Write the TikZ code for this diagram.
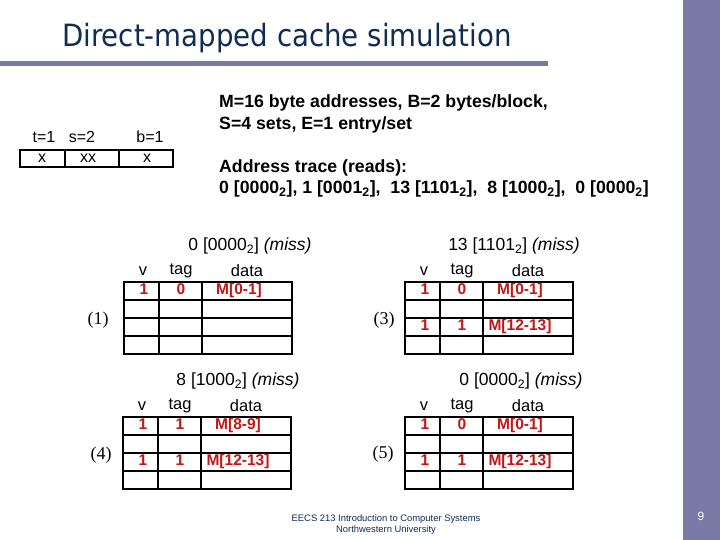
\documentclass[tikz,border=0pt]{standalone}
\usepackage{fontspec}
\setmainfont{Liberation Sans}
\newfontfamily\titlefont{DejaVu Sans Condensed}
\newfontfamily\stepfont{Liberation Serif}
\usetikzlibrary{positioning}

\definecolor{slidebar}{RGB}{122,122,166}
\definecolor{titleblue}{RGB}{16,44,84}
\definecolor{entryred}{RGB}{196,20,20}

% grid of one cache: #1 = left x, #2 = top y
\newcommand{\cachegrid}[2]{%
    \draw[gridline] (#1,#2) rectangle ++(168,72);
    \foreach \r in {18,36,54} \draw[gridline] (#1,#2+\r) -- ++(168,0);
    \foreach \c in {35,78} \draw[gridline] (#1+\c,#2) -- ++(0,72);
}
% column heads: #1 = left x, #2 = top y, #3 = name
\newcommand{\cachehead}[3]{%
    \node[hdr] (#3v) at (#1+19,#2-11) {v};
    \node[hdr] (#3t) at (#1+57,#2-11) {tag};
    \node[hdr] (#3d) at (#1+123,#2-11) {data};
}
% one filled line: #1 = left x, #2 = row centre y, #3 v, #4 tag, #5 data, #6 name
\newcommand{\cacherow}[6]{%
    \node[entry] (#6v) at (#1+20,#2) {#3};
    \node[entry] (#6t) at (#1+57,#2) {#4};
    \node[entry] (#6d) at (#1+115,#2) {#5};
}

\begin{document}
\begin{tikzpicture}[x=1pt, y=-1pt,
        gridline/.style={line width=2.7pt, black},
        hdr/.style={font=\fontsize{16.5}{16}\selectfont, inner sep=0pt},
        entry/.style={font=\fontsize{15.5}{14}\selectfont\bfseries, text=entryred,
            inner sep=0pt, text height=1.45ex, text depth=0.2ex},
        info/.style={font=\fontsize{17.7}{18}\selectfont\bfseries, inner sep=0pt, anchor=west},
        access/.style={font=\fontsize{17.5}{17}\selectfont, inner sep=0pt},
        steplabel/.style={font=\stepfont\fontsize{18}{18}\selectfont, inner sep=0pt},
        field/.style={font=\fontsize{16}{16}\selectfont, inner sep=0pt}
    ]
    \useasboundingbox (0,0) rectangle (720,540);

    % slide frame
    \fill[slidebar] (0,61) rectangle (548,66);
    \fill[slidebar] (683,0) rectangle (720,540);
    \node[font=\titlefont\fontsize{30.7}{30}\selectfont, text=titleblue, inner sep=0pt,
        anchor=base west] (title) at (62,47) {Direct-mapped cache simulation};
    \node[font=\fontsize{12}{12}\selectfont, text=white, inner sep=0pt] (pagenum) at (701,516) {9};
    \node[font=\fontsize{9.4}{11}\selectfont, text=titleblue, align=center, inner sep=0pt]
        (footer) at (386,525) {EECS 213 Introduction to Computer Systems\\Northwestern University};

    % address fields
    \draw[line width=1.8pt] (20,150) rectangle (173,167);
    \draw[line width=1.8pt] (65,150) -- (65,167);
    \draw[line width=1.8pt] (119,150) -- (119,167);
    \node[field] (tlab) at (44,137) {t=1};
    \node[field] (slab) at (82,137) {s=2};
    \node[field] (blab) at (150,137) {b=1};
    \node[field] (tbits) at (42,158) {x};
    \node[field] (sbits) at (88,158) {xx};
    \node[field] (bbits) at (147,158) {x};

    % parameters and trace
    \node[info] (params1) at (219,103) {M=16 byte addresses, B=2 bytes/block,};
    \node[info] (params2) at (219,125) {S=4 sets, E=1 entry/set};
    \node[info] (trace1) at (219,168) {Address trace (reads):};
    \node[info] (trace2) at (219,189) {0 [0000\textsubscript{2}], 1 [0001\textsubscript{2}],~ 13 [1101\textsubscript{2}],~ 8 [1000\textsubscript{2}],~ 0 [0000\textsubscript{2}]};

    % (1)
    \node[access] (acc1) at (250,246) {0 [0000\textsubscript{2}] \textit{(miss)}};
    \cachehead{124}{282}{h1}
    \cachegrid{124}{282}
    \cacherow{124}{291}{1}{0}{M[0-1]}{a1}
    \node[steplabel] (step1) at (98,320) {(1)};

    % (3)
    \node[access] (acc3) at (514,246) {13 [1101\textsubscript{2}] \textit{(miss)}};
    \cachehead{405}{282}{h3}
    \cachegrid{405}{282}
    \cacherow{405}{291}{1}{0}{M[0-1]}{c1}
    \cacherow{405}{327}{1}{1}{M[12-13]}{c3}
    \node[steplabel] (step3) at (384,320) {(3)};

    % (4)
    \node[access] (acc4) at (238,381) {8 [1000\textsubscript{2}] \textit{(miss)}};
    \cachehead{123}{417}{h4}
    \cachegrid{123}{417}
    \cacherow{123}{426}{1}{1}{M[8-9]}{d1}
    \cacherow{123}{462}{1}{1}{M[12-13]}{d3}
    \node[steplabel] (step4) at (101,455) {(4)};

    % (5)
    \node[access] (acc5) at (521,381) {0 [0000\textsubscript{2}] \textit{(miss)}};
    \cachehead{405}{417}{h5}
    \cachegrid{405}{417}
    \cacherow{405}{426}{1}{0}{M[0-1]}{e1}
    \cacherow{405}{462}{1}{1}{M[12-13]}{e3}
    \node[steplabel] (step5) at (383,454) {(5)};
\end{tikzpicture}
\end{document}
